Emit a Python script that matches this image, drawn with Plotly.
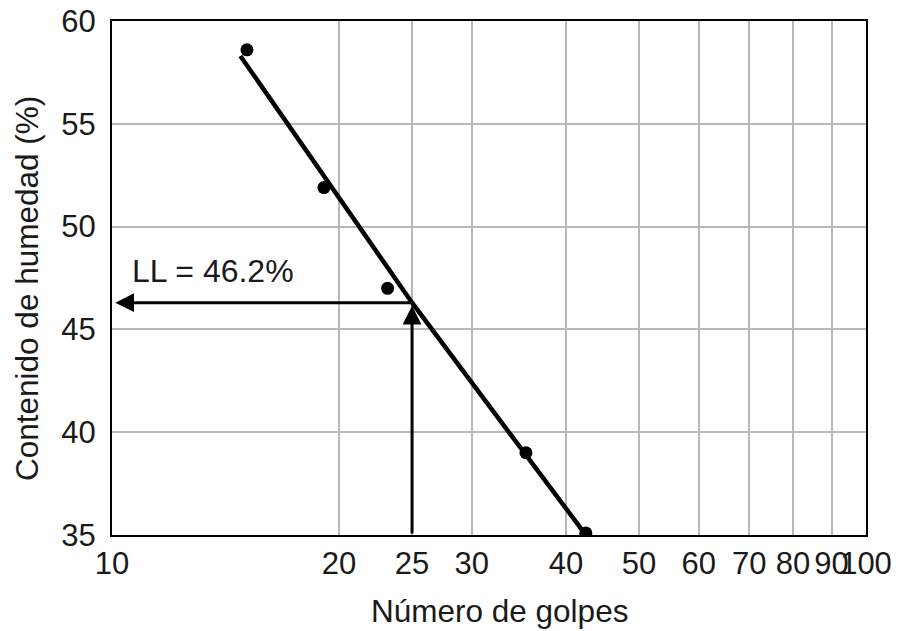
import math
import plotly.graph_objects as go

# ---- data ----
golpes = [15.1, 19.1, 23.2, 35.4, 42.5]
humedad = [58.6, 51.9, 47.0, 39.0, 35.1]

fit_golpes = [14.8, 25.0, 42.3]
fit_humedad = [58.3, 46.3, 35.1]

ll_golpes = 25
ll_humedad = 46.3
ll_label = "LL = 46.2%"

x_ticks = [10, 20, 25, 30, 40, 50, 60, 70, 80, 90, 100]
x_ticktext = [str(v) for v in x_ticks]
y_ticks = [35, 40, 45, 50, 55, 60]

x_title = "Número de golpes"
y_title = "Contenido de humedad (%)"

FONT = "Liberation Sans, Arial, sans-serif"
TXT = "#1a1a1a"
FS = 31

W, H = 913, 631
L, R, T, B = 112, 47, 21, 96
pw, ph = W - L - R, H - T - B


def px2paper(px, py):
    return (px - L) / pw, 1 - (py - T) / ph


fig = go.Figure()

fig.add_trace(go.Scatter(
    x=fit_golpes, y=fit_humedad, mode="lines",
    line=dict(color="black", width=4.5), showlegend=False, hoverinfo="skip"))

fig.add_trace(go.Scatter(
    x=golpes, y=humedad, mode="markers",
    marker=dict(color="black", size=13), showlegend=False))

# arrows (log axis -> annotation coords in log10)
fig.add_annotation(
    x=math.log10(ll_golpes), y=ll_humedad - 0.15, xref="x", yref="y",
    ax=math.log10(ll_golpes), ay=35, axref="x", ayref="y",
    showarrow=True, arrowhead=2, arrowsize=1.25, arrowwidth=3, arrowcolor="black", text="")
fig.add_annotation(
    x=math.log10(10.1), y=ll_humedad, xref="x", yref="y",
    ax=math.log10(ll_golpes), ay=ll_humedad, axref="x", ayref="y",
    showarrow=True, arrowhead=2, arrowsize=1.25, arrowwidth=3, arrowcolor="black", text="")

fig.add_annotation(
    x=math.log10(10.55), y=47.85, xref="x", yref="y", text=ll_label,
    showarrow=False, xanchor="left", yanchor="middle",
    font=dict(family=FONT, size=32, color=TXT))

# axis titles
tx, ty = px2paper(499.5, 611)
fig.add_annotation(
    x=tx, y=ty, xref="paper", yref="paper", text=x_title, showarrow=False,
    xanchor="center", yanchor="middle",
    font=dict(family=FONT, size=31.5, color=TXT))
tx, ty = px2paper(27, 289)
fig.add_annotation(
    x=tx, y=ty, xref="paper", yref="paper", text=y_title, showarrow=False, textangle=-90,
    xanchor="center", yanchor="middle",
    font=dict(family=FONT, size=31.5, color=TXT))

fig.update_layout(
    width=W, height=H,
    margin=dict(l=L, r=R, t=T, b=B, pad=0, autoexpand=False),
    paper_bgcolor="white", plot_bgcolor="white",
    font=dict(family=FONT, size=FS, color=TXT),
    xaxis=dict(type="log", range=[1, 2], tickvals=x_ticks, ticktext=x_ticktext,
               tickangle=0, automargin=False,
               showgrid=True, gridcolor="#b8b8b8", gridwidth=2,
               showline=True, linecolor="black", linewidth=2, mirror=True,
               ticks="", ticklen=0,
               tickfont=dict(family=FONT, size=FS, color=TXT), zeroline=False),
    yaxis=dict(range=[35, 60], tickvals=y_ticks, automargin=False,
               showgrid=True, gridcolor="#b8b8b8", gridwidth=2,
               showline=True, linecolor="black", linewidth=2, mirror=True,
               ticks="outside", ticklen=8, tickcolor="rgba(0,0,0,0)",
               tickfont=dict(family=FONT, size=FS, color=TXT), zeroline=False),
)

fig.write_html("out.html")
